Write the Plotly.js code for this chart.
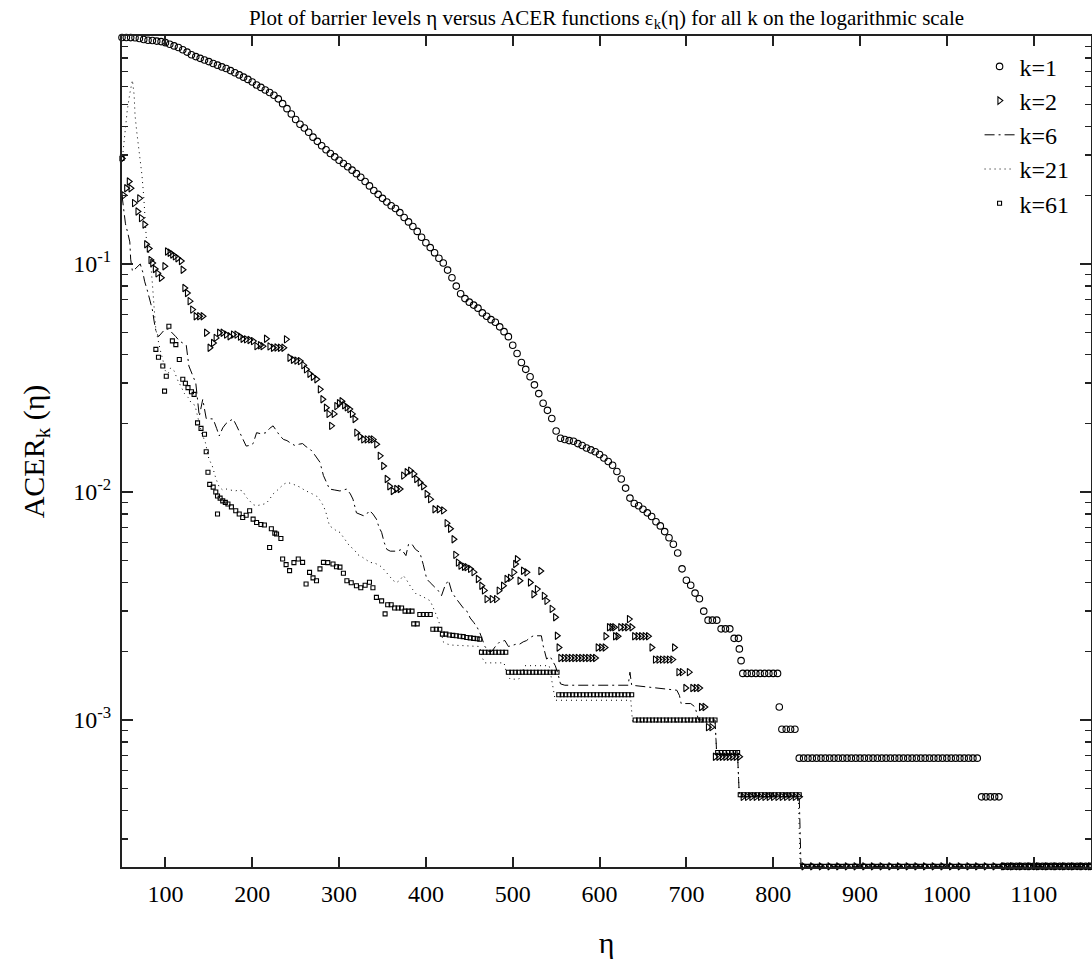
<!DOCTYPE html>
<html lang="en">
  <head>
    <meta charset="UTF-8" />
    <title>ACER functions on the logarithmic scale</title>
    <script src="https://cdn.plot.ly/plotly-3.0.1.min.js"></script>
    <style>
      body {
        margin: 0;
        background: #fff;
      }
      #plot {
        width: 1092px;
        height: 963px;
      }
    </style>
  </head>
  <body>
    <div id="plot"></div>

    <script>
      // barrier level eta, ACER value
      const k1Points = [
        [50, 0.985], [55, 0.985], [60, 0.984], [65, 0.982], [70, 0.975], [75, 0.965], [80, 0.958],
        [85, 0.955], [90, 0.95], [95, 0.945], [100, 0.935], [105, 0.92], [110, 0.905], [115, 0.89],
        [120, 0.87], [125, 0.85], [130, 0.828], [135, 0.812], [140, 0.798], [145, 0.785], [150, 0.772],
        [155, 0.758], [160, 0.745], [165, 0.732], [170, 0.72], [175, 0.705], [180, 0.69], [185, 0.675],
        [190, 0.66], [195, 0.645], [200, 0.628], [205, 0.61], [210, 0.595], [215, 0.58], [220, 0.565],
        [225, 0.55], [230, 0.53], [235, 0.505], [240, 0.48], [245, 0.455], [250, 0.43], [255, 0.41],
        [260, 0.395], [265, 0.378], [270, 0.36], [275, 0.345], [280, 0.33], [285, 0.317], [290, 0.305],
        [295, 0.295], [300, 0.285], [305, 0.276], [310, 0.267], [315, 0.258], [320, 0.249], [325, 0.24],
        [330, 0.23], [335, 0.22], [340, 0.21], [345, 0.202], [350, 0.194], [355, 0.187], [360, 0.18],
        [365, 0.175], [370, 0.168], [375, 0.16], [380, 0.153], [385, 0.146], [390, 0.139], [395, 0.131],
        [400, 0.124], [405, 0.118], [410, 0.112], [415, 0.106], [420, 0.101], [425, 0.094], [430, 0.087],
        [435, 0.08], [440, 0.074], [445, 0.0705], [450, 0.068], [455, 0.066], [460, 0.064], [465, 0.061],
        [470, 0.059], [475, 0.057], [480, 0.0555], [485, 0.053], [490, 0.0505], [495, 0.048], [500, 0.044],
        [505, 0.0405], [510, 0.037], [515, 0.0345], [520, 0.032], [525, 0.0295], [530, 0.027], [535, 0.0245],
        [540, 0.0228], [545, 0.021], [550, 0.0185], [555, 0.0172], [560, 0.017], [565, 0.0168], [570, 0.0167],
        [575, 0.0163], [580, 0.016], [585, 0.0156], [590, 0.0153], [595, 0.015], [600, 0.0146], [605, 0.0141],
        [610, 0.0136], [615, 0.0131], [620, 0.0123], [625, 0.0114], [630, 0.0104], [635, 0.0094], [640, 0.0089],
        [645, 0.0087], [650, 0.0084], [655, 0.0081], [660, 0.0078], [665, 0.0074], [670, 0.0071], [675, 0.0067],
        [680, 0.0063], [685, 0.0059], [690, 0.0054], [695, 0.0046], [700, 0.0041], [705, 0.0039], [710, 0.0036],
        [715, 0.0034], [720, 0.003], [725, 0.00274], [730, 0.00274], [735, 0.00274], [740, 0.00251],
        [745, 0.00251], [750, 0.00251], [755, 0.00228], [760, 0.00228], [761, 0.00205], [763, 0.00182],
        [765, 0.0016], [770, 0.0016], [775, 0.0016], [780, 0.0016], [785, 0.0016], [790, 0.0016],
        [795, 0.0016], [800, 0.0016], [805, 0.0016], [807, 0.00114], [810, 0.00091], [815, 0.00091],
        [820, 0.00091], [825, 0.00091], [830, 0.00068], [835, 0.00068], [840, 0.00068], [845, 0.00068],
        [850, 0.00068], [855, 0.00068], [860, 0.00068], [865, 0.00068], [870, 0.00068], [875, 0.00068],
        [880, 0.00068], [885, 0.00068], [890, 0.00068], [895, 0.00068], [900, 0.00068], [905, 0.00068],
        [910, 0.00068], [915, 0.00068], [920, 0.00068], [925, 0.00068], [930, 0.00068], [935, 0.00068],
        [940, 0.00068], [945, 0.00068], [950, 0.00068], [955, 0.00068], [960, 0.00068], [965, 0.00068],
        [970, 0.00068], [975, 0.00068], [980, 0.00068], [985, 0.00068], [990, 0.00068], [995, 0.00068],
        [1000, 0.00068], [1005, 0.00068], [1010, 0.00068], [1015, 0.00068], [1020, 0.00068], [1025, 0.00068],
        [1030, 0.00068], [1035, 0.00068], [1040, 0.00046], [1045, 0.00046], [1050, 0.00046], [1055, 0.00046],
        [1060, 0.00046], [1065, 0.000228], [1070, 0.000228], [1075, 0.000228], [1080, 0.000228],
        [1085, 0.000228], [1090, 0.000228], [1095, 0.000228], [1100, 0.000228], [1105, 0.000228],
        [1110, 0.000228], [1115, 0.000228], [1120, 0.000228], [1125, 0.000228], [1130, 0.000228],
        [1135, 0.000228], [1140, 0.000228], [1145, 0.000228], [1150, 0.000228], [1155, 0.000228],
        [1160, 0.000228], [1165, 0.000228]
      ];

      const k2Points = [
        [50, 0.29], [52, 0.2], [55, 0.215], [58, 0.23], [60, 0.215], [64, 0.185], [68, 0.17], [70, 0.194],
        [72, 0.159], [76, 0.149], [78, 0.122], [81, 0.117], [83, 0.104], [85, 0.101], [88, 0.095], [91, 0.091],
        [95, 0.087], [99, 0.0977], [102, 0.1135], [105, 0.112], [108, 0.11], [111, 0.108], [114, 0.106],
        [118, 0.103], [120, 0.0944], [122, 0.0785], [125, 0.0746], [128, 0.0687], [131, 0.0631], [135, 0.059],
        [139, 0.059], [143, 0.059], [147, 0.0499], [151, 0.0429], [155, 0.045], [158, 0.0474], [162, 0.0499],
        [166, 0.0499], [170, 0.049], [174, 0.0482], [178, 0.049], [182, 0.049], [186, 0.048], [189, 0.047],
        [193, 0.0467], [197, 0.0464], [201, 0.0459], [205, 0.0436], [209, 0.044], [212, 0.0436], [216, 0.047],
        [220, 0.0435], [224, 0.0429], [228, 0.043], [232, 0.0429], [236, 0.0429], [239, 0.0467], [243, 0.0388],
        [247, 0.038], [251, 0.0377], [255, 0.0375], [259, 0.036], [262, 0.0345], [266, 0.033], [270, 0.032],
        [274, 0.0312], [278, 0.0282], [281, 0.0255], [285, 0.0234], [288, 0.022], [291, 0.0195], [294, 0.022],
        [297, 0.0238], [300, 0.0245], [303, 0.025], [306, 0.024], [309, 0.0235], [312, 0.0231], [315, 0.022],
        [318, 0.0209], [320, 0.0182], [324, 0.0175], [328, 0.017], [332, 0.017], [336, 0.017], [339, 0.017],
        [343, 0.0162], [347, 0.0144], [351, 0.013], [355, 0.0114], [358, 0.0106], [362, 0.0101], [366, 0.0103],
        [370, 0.0103], [374, 0.0118], [378, 0.0122], [382, 0.0124], [386, 0.012], [389, 0.0114], [393, 0.011],
        [397, 0.0106], [401, 0.0098], [405, 0.0093], [410, 0.0084], [415, 0.0084], [420, 0.0083], [424, 0.0073],
        [428, 0.0069], [432, 0.0062], [434, 0.0053], [437, 0.0049], [440, 0.00475], [444, 0.0047], [447, 0.00468],
        [451, 0.0046], [455, 0.00445], [460, 0.00415], [464, 0.00388], [467, 0.0037], [470, 0.00339],
        [476, 0.00339], [481, 0.00339], [484, 0.00369], [489, 0.00388], [493, 0.00415], [497, 0.0042],
        [501, 0.00444], [503, 0.00483], [505, 0.00507], [508, 0.00408], [512, 0.00451], [516, 0.00444],
        [520, 0.00401], [524, 0.00356], [528, 0.00375], [532, 0.0045], [536, 0.0035], [539, 0.00333],
        [545, 0.00307], [549, 0.00282], [551, 0.00234], [553, 0.00208], [555, 0.00187], [559, 0.00187],
        [563, 0.00187], [567, 0.00187], [571, 0.00187], [575, 0.00187], [579, 0.00187], [583, 0.00187],
        [587, 0.00187], [591, 0.00187], [595, 0.00187], [598, 0.00208], [602, 0.00208], [606, 0.00208],
        [607, 0.00233], [611, 0.00255], [614, 0.00255], [617, 0.00255], [618, 0.00233], [621, 0.00233],
        [624, 0.00255], [628, 0.00255], [632, 0.00255], [634, 0.00277], [637, 0.00255], [640, 0.00233],
        [644, 0.00233], [648, 0.00233], [652, 0.00233], [656, 0.00233], [660, 0.00208], [664, 0.00184],
        [668, 0.00184], [672, 0.00184], [676, 0.00184], [680, 0.00184], [684, 0.00184], [686, 0.00208],
        [691, 0.00162], [695, 0.00162], [699, 0.00138], [703, 0.00162], [707, 0.00138], [711, 0.00138],
        [715, 0.00138], [717, 0.00114], [721, 0.00114], [725, 0.00093], [729, 0.00093], [733, 0.00069],
        [737, 0.00069], [741, 0.00069], [745, 0.00069], [749, 0.00069], [753, 0.00069], [757, 0.00069],
        [761, 0.00069], [765, 0.00046], [770, 0.00046], [775, 0.00046], [780, 0.00046], [785, 0.00046],
        [790, 0.00046], [795, 0.00046], [800, 0.00046], [805, 0.00046], [810, 0.00046], [815, 0.00046],
        [820, 0.00046], [825, 0.00046], [830, 0.00046], [835, 0.000228], [845, 0.000228], [855, 0.000228],
        [865, 0.000228], [875, 0.000228], [885, 0.000228], [895, 0.000228], [905, 0.000228], [915, 0.000228],
        [925, 0.000228], [935, 0.000228], [945, 0.000228], [955, 0.000228], [965, 0.000228], [975, 0.000228],
        [985, 0.000228], [995, 0.000228], [1005, 0.000228], [1015, 0.000228], [1025, 0.000228],
        [1035, 0.000228], [1045, 0.000228], [1055, 0.000228], [1065, 0.000228], [1075, 0.000228],
        [1085, 0.000228], [1095, 0.000228], [1105, 0.000228], [1115, 0.000228], [1125, 0.000228],
        [1135, 0.000228], [1145, 0.000228], [1155, 0.000228], [1165, 0.000228]
      ];

      const k6Points = [
        [50, 0.2], [52, 0.17], [54, 0.15], [57, 0.135], [59, 0.125], [60, 0.105], [62, 0.093], [65, 0.095],
        [68, 0.098], [71, 0.1], [74, 0.092], [76, 0.084], [79, 0.077], [82, 0.07], [85, 0.063], [87, 0.056],
        [89, 0.051], [92, 0.048], [96, 0.05], [100, 0.052], [104, 0.0516], [108, 0.05], [112, 0.048],
        [116, 0.046], [120, 0.045], [124, 0.044], [127, 0.0357], [131, 0.033], [135, 0.03], [139, 0.0215],
        [143, 0.0255], [147, 0.021], [151, 0.0209], [155, 0.0209], [159, 0.019], [162, 0.0176], [166, 0.0191],
        [170, 0.02], [174, 0.0205], [178, 0.0209], [182, 0.0195], [186, 0.018], [189, 0.017], [193, 0.0159],
        [197, 0.016], [201, 0.0163], [205, 0.0182], [210, 0.018], [216, 0.0182], [220, 0.019], [224, 0.0195],
        [228, 0.0185], [232, 0.0176], [236, 0.017], [240, 0.0168], [245, 0.0163], [249, 0.016], [254, 0.0162],
        [258, 0.0163], [262, 0.0158], [266, 0.0155], [270, 0.0149], [274, 0.0142], [278, 0.0135], [282, 0.0118],
        [286, 0.011], [289, 0.0103], [295, 0.0102], [301, 0.0101], [305, 0.0102], [309, 0.0103], [313, 0.0098],
        [316, 0.0093], [320, 0.0081], [324, 0.008], [328, 0.00787], [332, 0.008], [335, 0.0083], [339, 0.008],
        [343, 0.0076], [346, 0.007], [349, 0.00665], [352, 0.006], [355, 0.0056], [359, 0.0055], [362, 0.0055],
        [367, 0.0055], [372, 0.0056], [377, 0.00526], [380, 0.0059], [384, 0.0059], [388, 0.0056],
        [393, 0.00543], [397, 0.0048], [401, 0.00415], [405, 0.004], [409, 0.00388], [414, 0.0037],
        [418, 0.00351], [422, 0.00388], [426, 0.0041], [430, 0.00363], [435, 0.0034], [439, 0.00323],
        [443, 0.0031], [447, 0.00301], [451, 0.0028], [455, 0.00268], [459, 0.00255], [462, 0.00242],
        [465, 0.00226], [468, 0.0021], [472, 0.002], [476, 0.002], [480, 0.0021], [485, 0.0022], [491, 0.00223],
        [495, 0.0021], [499, 0.00212], [504, 0.00215], [508, 0.00215], [512, 0.0022], [516, 0.00223],
        [520, 0.0023], [524, 0.00234], [529, 0.00234], [533, 0.00234], [535, 0.00212], [539, 0.00185],
        [543, 0.0019], [546, 0.0018], [549, 0.00173], [552, 0.0016], [555, 0.00144], [560, 0.00142],
        [633, 0.00142], [635, 0.00162], [637, 0.00142], [689, 0.00135], [692, 0.00128], [694, 0.00118],
        [705, 0.00118], [710, 0.00114], [714, 0.001], [733, 0.001], [735, 0.0007], [759, 0.0007],
        [761, 0.00046], [830, 0.00046], [832, 0.000228], [1165, 0.000228]
      ];

      const k21Points = [
        [50, 0.28], [53, 0.37], [56, 0.47], [59, 0.56], [62, 0.64], [64, 0.55], [65, 0.45], [67, 0.38],
        [69, 0.33], [71, 0.286], [73, 0.245], [75, 0.198], [76, 0.17], [77, 0.149], [78, 0.13], [80, 0.116],
        [83, 0.101], [85, 0.082], [86, 0.07], [87, 0.064], [88, 0.057], [89, 0.0516], [91, 0.047], [94, 0.042],
        [97, 0.038], [100, 0.034], [103, 0.033], [106, 0.035], [110, 0.034], [114, 0.031], [118, 0.029],
        [122, 0.027], [126, 0.026], [130, 0.0245], [134, 0.024], [138, 0.021], [142, 0.018], [146, 0.0165],
        [150, 0.014], [154, 0.013], [158, 0.0115], [162, 0.0105], [166, 0.0102], [170, 0.0103], [175, 0.0102],
        [180, 0.0101], [185, 0.0102], [189, 0.0101], [193, 0.0095], [197, 0.0091], [201, 0.0088], [205, 0.0087],
        [210, 0.0088], [216, 0.0089], [220, 0.0093], [224, 0.0098], [228, 0.0101], [232, 0.0105], [236, 0.0108],
        [240, 0.011], [245, 0.0109], [250, 0.0107], [255, 0.0105], [260, 0.0102], [265, 0.01], [270, 0.0098],
        [274, 0.0096], [278, 0.0092], [282, 0.0087], [285, 0.0081], [289, 0.0071], [294, 0.0069], [298, 0.0067],
        [301, 0.00665], [305, 0.0063], [309, 0.006], [312, 0.0058], [317, 0.0056], [322, 0.0053], [327, 0.00517],
        [332, 0.005], [336, 0.0049], [340, 0.0049], [344, 0.0048], [347, 0.00475], [351, 0.0046], [355, 0.0044],
        [358, 0.0043], [362, 0.0041], [366, 0.004], [370, 0.0041], [374, 0.0043], [378, 0.0041], [383, 0.00381],
        [389, 0.00356], [395, 0.0035], [400, 0.0034], [405, 0.00333], [410, 0.00301], [415, 0.0027],
        [420, 0.0022], [425, 0.00215], [430, 0.00213], [462, 0.0021], [464, 0.0019], [468, 0.00178],
        [490, 0.00178], [493, 0.0016], [497, 0.00151], [507, 0.00151], [510, 0.0016], [514, 0.00173],
        [542, 0.00173], [545, 0.0015], [549, 0.00122], [636, 0.00122], [638, 0.00098], [733, 0.00098],
        [735, 0.0007], [759, 0.0007], [761, 0.00046], [829, 0.00046], [831, 0.000228], [1165, 0.000228]
      ];

      const k61Points = [
        [50, 0.29], [89, 0.0422], [92, 0.039], [97, 0.0357], [99, 0.0277], [101, 0.0322], [104, 0.0533],
        [108, 0.046], [112, 0.0443], [116, 0.0381], [120, 0.0312], [123, 0.03], [126, 0.0287], [130, 0.0275],
        [133, 0.0268], [137, 0.0201], [141, 0.019], [145, 0.0179], [147, 0.015], [149, 0.0122], [151, 0.0108],
        [155, 0.0105], [158, 0.01], [160, 0.0096], [160, 0.008], [163, 0.0094], [166, 0.00914], [169, 0.009],
        [172, 0.00885], [176, 0.0086], [181, 0.00827], [185, 0.008], [189, 0.00773], [193, 0.0079],
        [197, 0.00827], [201, 0.0076], [205, 0.00735], [210, 0.0072], [214, 0.00716], [220, 0.00571],
        [222, 0.0069], [226, 0.0066], [228, 0.00654], [233, 0.00625], [235, 0.00508], [239, 0.0048],
        [243, 0.00452], [248, 0.0049], [253, 0.00508], [258, 0.00491], [262, 0.00395], [266, 0.00444],
        [270, 0.0042], [274, 0.00408], [278, 0.0046], [282, 0.00491], [287, 0.0049], [293, 0.00483],
        [297, 0.0047], [301, 0.00468], [305, 0.0044], [309, 0.00408], [314, 0.004], [320, 0.00388],
        [325, 0.0038], [330, 0.0039], [335, 0.00402], [339, 0.0038], [343, 0.00345], [349, 0.00333],
        [353, 0.00292], [356, 0.0032], [360, 0.0032], [364, 0.0031], [368, 0.0031], [372, 0.0031],
        [376, 0.003], [380, 0.003], [384, 0.003], [386, 0.00264], [390, 0.00264], [393, 0.0029], [397, 0.0029],
        [401, 0.0029], [405, 0.0029], [408, 0.0025], [412, 0.0025], [416, 0.0025], [419, 0.00238],
        [423, 0.00238], [427, 0.00236], [431, 0.00235], [435, 0.00234], [439, 0.00233], [443, 0.00232],
        [447, 0.0023], [451, 0.00229], [455, 0.00228], [459, 0.00227], [462, 0.00226], [464, 0.00198],
        [468, 0.00198], [472, 0.00198], [476, 0.00198], [480, 0.00198], [484, 0.00198], [488, 0.00198],
        [492, 0.00198], [495, 0.00162], [499, 0.00162], [503, 0.00162], [507, 0.00162], [511, 0.00162],
        [515, 0.00162], [519, 0.00162], [523, 0.00162], [527, 0.00162], [531, 0.00162], [535, 0.00162],
        [539, 0.00162], [543, 0.00162], [547, 0.00162], [551, 0.00162], [553, 0.00129], [557, 0.00129],
        [561, 0.00129], [565, 0.00129], [569, 0.00129], [573, 0.00129], [577, 0.00129], [581, 0.00129],
        [585, 0.00129], [589, 0.00129], [593, 0.00129], [597, 0.00129], [601, 0.00129], [605, 0.00129],
        [609, 0.00129], [613, 0.00129], [617, 0.00129], [621, 0.00129], [625, 0.00129], [629, 0.00129],
        [633, 0.00129], [637, 0.00129], [641, 0.001], [645, 0.001], [649, 0.001], [653, 0.001], [657, 0.001],
        [661, 0.001], [665, 0.001], [669, 0.001], [673, 0.001], [677, 0.001], [681, 0.001], [685, 0.001],
        [689, 0.001], [693, 0.001], [697, 0.001], [701, 0.001], [705, 0.001], [709, 0.001], [713, 0.001],
        [717, 0.001], [721, 0.001], [725, 0.001], [729, 0.001], [733, 0.001], [736, 0.00072], [740, 0.00072],
        [744, 0.00072], [748, 0.00072], [752, 0.00072], [756, 0.00072], [759, 0.00072], [762, 0.00047],
        [766, 0.00047], [770, 0.00047], [774, 0.00047], [778, 0.00047], [782, 0.00047], [786, 0.00047],
        [790, 0.00047], [794, 0.00047], [798, 0.00047], [802, 0.00047], [806, 0.00047], [810, 0.00047],
        [814, 0.00047], [818, 0.00047], [822, 0.00047], [826, 0.00047], [830, 0.00047], [834, 0.000228],
        [839, 0.000228], [844, 0.000228], [849, 0.000228], [854, 0.000228], [859, 0.000228], [864, 0.000228],
        [869, 0.000228], [874, 0.000228], [879, 0.000228], [884, 0.000228], [889, 0.000228], [894, 0.000228],
        [899, 0.000228], [904, 0.000228], [909, 0.000228], [914, 0.000228], [919, 0.000228], [924, 0.000228],
        [929, 0.000228], [934, 0.000228], [939, 0.000228], [944, 0.000228], [949, 0.000228], [954, 0.000228],
        [959, 0.000228], [964, 0.000228], [969, 0.000228], [974, 0.000228], [979, 0.000228], [984, 0.000228],
        [989, 0.000228], [994, 0.000228], [999, 0.000228], [1004, 0.000228], [1009, 0.000228],
        [1014, 0.000228], [1019, 0.000228], [1024, 0.000228], [1029, 0.000228], [1034, 0.000228],
        [1039, 0.000228], [1044, 0.000228], [1049, 0.000228], [1054, 0.000228], [1059, 0.000228],
        [1064, 0.000228], [1069, 0.000228], [1074, 0.000228], [1079, 0.000228], [1084, 0.000228],
        [1089, 0.000228], [1094, 0.000228], [1099, 0.000228], [1104, 0.000228], [1109, 0.000228],
        [1114, 0.000228], [1119, 0.000228], [1124, 0.000228], [1129, 0.000228], [1134, 0.000228],
        [1139, 0.000228], [1144, 0.000228], [1149, 0.000228], [1154, 0.000228], [1159, 0.000228],
        [1164, 0.000228]
      ];

      const xTicks = [100, 200, 300, 400, 500, 600, 700, 800, 900, 1000, 1100];
      const yTicks = [0.001, 0.01, 0.1];
      const yTickText = ["10<sup>-3</sup>", "10<sup>-2</sup>", "10<sup>-1</sup>"];
      const yMinorTicks = [
        0.0003, 0.0004, 0.0005, 0.0006, 0.0007, 0.0008, 0.0009,
        0.002, 0.003, 0.004, 0.005, 0.006, 0.007, 0.008, 0.009,
        0.02, 0.03, 0.04, 0.05, 0.06, 0.07, 0.08, 0.09,
        0.2, 0.3, 0.4, 0.5, 0.6, 0.7, 0.8, 0.9
      ];

      const serif = "Liberation Serif";
      const ink = "#000";

      function xs(pts) {
        return pts.map((p) => p[0]);
      }
      function ys(pts) {
        return pts.map((p) => p[1]);
      }

      const traces = [
        {
          x: xs(k1Points),
          y: ys(k1Points),
          name: "k=1",
          mode: "markers",
          type: "scatter",
          cliponaxis: false,
          marker: { symbol: "circle-open", size: 6.5, color: ink, line: { width: 1.1, color: ink } },
        },
        {
          x: xs(k2Points),
          y: ys(k2Points),
          name: "k=2",
          mode: "markers",
          type: "scatter",
          cliponaxis: false,
          marker: { symbol: "triangle-right-open", size: 6.5, color: ink, line: { width: 1.1, color: ink } },
        },
        {
          x: xs(k6Points),
          y: ys(k6Points),
          name: "k=6",
          mode: "lines",
          type: "scatter",
          line: { color: ink, width: 1, dash: "10px,4px,2px,4px" },
        },
        {
          x: xs(k21Points),
          y: ys(k21Points),
          name: "k=21",
          mode: "lines",
          type: "scatter",
          line: { color: ink, width: 1, dash: "1px,4px" },
        },
        {
          x: xs(k61Points),
          y: ys(k61Points),
          name: "k=61",
          mode: "markers",
          type: "scatter",
          cliponaxis: false,
          marker: { symbol: "square-open", size: 4, color: ink, line: { width: 1.1, color: ink } },
        },
      ];

      const layout = {
        width: 1092,
        height: 963,
        margin: { l: 122, r: 1, t: 36, b: 96 },
        paper_bgcolor: "#fff",
        plot_bgcolor: "#fff",
        font: { family: serif, color: ink, size: 24 },
        title: {
          text: "Plot of barrier levels η versus ACER functions ε<sub>k</sub>(η) for all k on the logarithmic scale",
          font: { family: serif, size: 21, color: ink },
          x: 0.5,
          xref: "paper",
          xanchor: "center",
          y: 0.982,
          yanchor: "middle",
        },
        showlegend: true,
        legend: {
          x: 0.885,
          xanchor: "left",
          y: 0.99,
          yanchor: "top",
          bgcolor: "rgba(0,0,0,0)",
          borderwidth: 0,
          font: { family: serif, size: 24, color: ink },
          tracegroupgap: 0,
        },
        xaxis: {
          range: [50, 1166],
          tickmode: "array",
          tickvals: xTicks,
          ticks: "inside",
          ticklen: 10,
          tickwidth: 2,
          tickcolor: "#222",
          ticklabelstandoff: 4,
          showline: true,
          linecolor: "#222",
          linewidth: 2,
          mirror: "ticks",
          showgrid: false,
          zeroline: false,
          tickfont: { family: serif, size: 24, color: ink },
          title: { text: "η", font: { family: serif, size: 30, color: ink }, standoff: 26 },
        },
        yaxis: {
          type: "log",
          range: [-3.645, 0],
          tickmode: "array",
          tickvals: yTicks,
          ticktext: yTickText,
          ticks: "inside",
          ticklen: 11,
          tickwidth: 2,
          tickcolor: "#222",
          ticklabelstandoff: 4,
          minor: {
            tickmode: "array",
            tickvals: yMinorTicks,
            ticks: "inside",
            ticklen: 6,
            tickwidth: 1.5,
            tickcolor: "#222",
            showgrid: false,
          },
          showline: true,
          linecolor: "#222",
          linewidth: 2,
          mirror: "ticks",
          showgrid: false,
          zeroline: false,
          tickfont: { family: serif, size: 24, color: ink },
          title: {
            text: "ACER<sub>k</sub> (η)",
            font: { family: serif, size: 30, color: ink },
            standoff: 20,
          },
        },
      };

      Plotly.newPlot("plot", traces, layout, { staticPlot: true });
    </script>
  </body>
</html>
